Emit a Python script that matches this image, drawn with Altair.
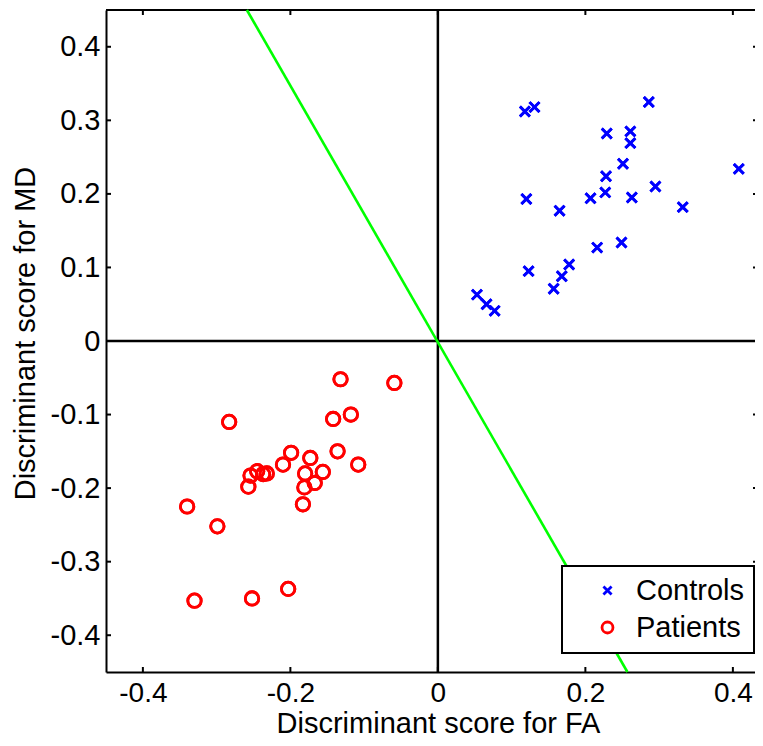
import altair as alt
import pandas as pd

# ---- data ----
groups = ["Controls", "Patients"]

ctrl_x = [0.118, 0.131, 0.286, 0.229, 0.261, 0.261, 0.251, 0.408, 0.228, 0.227,
          0.207, 0.263, 0.295, 0.120, 0.165, 0.332, 0.216, 0.249, 0.123, 0.178,
          0.168, 0.157, 0.053, 0.066, 0.077]
ctrl_y = [0.312, 0.318, 0.325, 0.282, 0.285, 0.269, 0.241, 0.234, 0.224, 0.202,
          0.194, 0.195, 0.210, 0.193, 0.177, 0.182, 0.127, 0.134, 0.095, 0.104,
          0.088, 0.071, 0.063, 0.050, 0.041]

pat_x = [-0.132, -0.059, -0.283, -0.142, -0.118, -0.199, -0.173, -0.136, -0.108, -0.210,
         -0.156, -0.180, -0.167, -0.181, -0.183, -0.254, -0.245, -0.237, -0.232, -0.257,
         -0.340, -0.299, -0.330, -0.252, -0.203]
pat_y = [-0.052, -0.057, -0.110, -0.106, -0.100, -0.152, -0.159, -0.150, -0.168, -0.168,
         -0.178, -0.180, -0.193, -0.199, -0.222, -0.183, -0.177, -0.181, -0.180, -0.198,
         -0.225, -0.252, -0.353, -0.350, -0.337]

line_x = [-0.259, 0.257]
line_y = [0.45, -0.45]

x_ticks = [-0.4, -0.2, 0, 0.2, 0.4]
y_ticks = [-0.4, -0.3, -0.2, -0.1, 0, 0.1, 0.2, 0.3, 0.4]
x_domain = [-0.45, 0.43]
y_domain = [-0.45, 0.45]

# ---- style ----
W, H = 649, 662
FONT = "Liberation Sans"
FS = 29
XPATH = "M-0.74,-0.74L0.74,0.74M0.74,-0.74L-0.74,0.74"

pts = pd.DataFrame({
    "x": ctrl_x + pat_x,
    "y": ctrl_y + pat_y,
    "group": [groups[0]] * len(ctrl_x) + [groups[1]] * len(pat_x),
})
line_df = pd.DataFrame({"x": line_x, "y": line_y})
xt_df = pd.DataFrame({"v": x_ticks})
yt_df = pd.DataFrame({"v": y_ticks})
one = pd.DataFrame({"a": [0]})

xs = alt.Scale(domain=x_domain, nice=False, zero=False)
ys = alt.Scale(domain=y_domain, nice=False, zero=False)

x_axis = alt.Axis(values=x_ticks, title="Discriminant score for FA", grid=False,
                  ticks=False, tickSize=0, domain=True, domainColor="black",
                  domainWidth=2, labelPadding=7, labelFontSize=28,
                  labelExpr="'' + datum.value",
                  labelOverlap=False, titleX=332, titleY=60,
                  titleBaseline="alphabetic", titleAlign="center")
y_axis = alt.Axis(values=y_ticks, title="Discriminant score for MD", grid=False,
                  ticks=False, tickSize=0, domain=True, domainColor="black",
                  domainWidth=2, labelPadding=6, labelExpr="'' + datum.value",
                  labelOverlap=False, titleX=-72, titleY=323, titleAngle=270,
                  titleBaseline="alphabetic", titleAlign="center")

leg = alt.Legend(title=None, orient="none", legendX=456, legendY=556,
                 strokeColor="black", fillColor="white",
                 padding=10, labelFont=FONT, labelFontSize=FS, labelColor="black",
                 symbolSize=120, symbolStrokeWidth=2.8, symbolOffset=21,
                 labelOffset=14, rowPadding=7, cornerRadius=0, labelLimit=0)

points = alt.Chart(pts).mark_point(filled=False, strokeWidth=2.8, size=180, opacity=1).encode(
    x=alt.X("x:Q", scale=xs, axis=x_axis),
    y=alt.Y("y:Q", scale=ys, axis=y_axis),
    color=alt.Color("group:N", scale=alt.Scale(domain=groups, range=["#0000ff", "#ff0000"]), legend=leg),
    shape=alt.Shape("group:N", scale=alt.Scale(domain=groups, range=[XPATH, "circle"]), legend=leg),
)

zero_v = alt.Chart(one).mark_rule(color="black", strokeWidth=2.5).encode(x=alt.datum(0))
zero_h = alt.Chart(one).mark_rule(color="black", strokeWidth=2.5).encode(y=alt.datum(0))
top_frame = alt.Chart(one).mark_rule(color="black", strokeWidth=2).encode(y=alt.datum(0.45))

green = alt.Chart(line_df).mark_line(color="#00ff00", strokeWidth=2.6).encode(
    x=alt.X("x:Q", scale=xs, axis=x_axis),
    y=alt.Y("y:Q", scale=ys, axis=y_axis),
)

tick_style = dict(color="black", strokeWidth=2)
top_ticks = alt.Chart(xt_df).mark_rule(**tick_style).encode(
    x=alt.X("v:Q", scale=xs, axis=x_axis), y=alt.value(0), y2=alt.value(5))
bot_ticks = alt.Chart(xt_df).mark_rule(**tick_style).encode(
    x=alt.X("v:Q", scale=xs, axis=x_axis), y=alt.value(H), y2=alt.value(H - 5))
left_ticks = alt.Chart(yt_df).mark_rule(**tick_style).encode(
    y=alt.Y("v:Q", scale=ys, axis=y_axis), x=alt.value(0), x2=alt.value(5))
right_ticks = alt.Chart(yt_df).mark_rule(**tick_style).encode(
    y=alt.Y("v:Q", scale=ys, axis=y_axis), x=alt.value(W - 2), x2=alt.value(W))

chart = alt.layer(
    points, zero_v, zero_h, top_frame, top_ticks, bot_ticks, left_ticks, right_ticks, green, points
).properties(
    width=W, height=H,
    autosize=alt.AutoSizeParams(type="none"),
    padding={"left": 98, "top": 2, "right": 0, "bottom": 66},
).configure_view(stroke=None).configure_axis(
    labelFont=FONT, labelFontSize=FS, labelColor="black",
    titleFont=FONT, titleFontSize=FS, titleFontWeight="normal", titleColor="black",
).configure_legend(strokeWidth=2)

chart.save("out.html", embed_options={"renderer": "svg", "actions": False})
